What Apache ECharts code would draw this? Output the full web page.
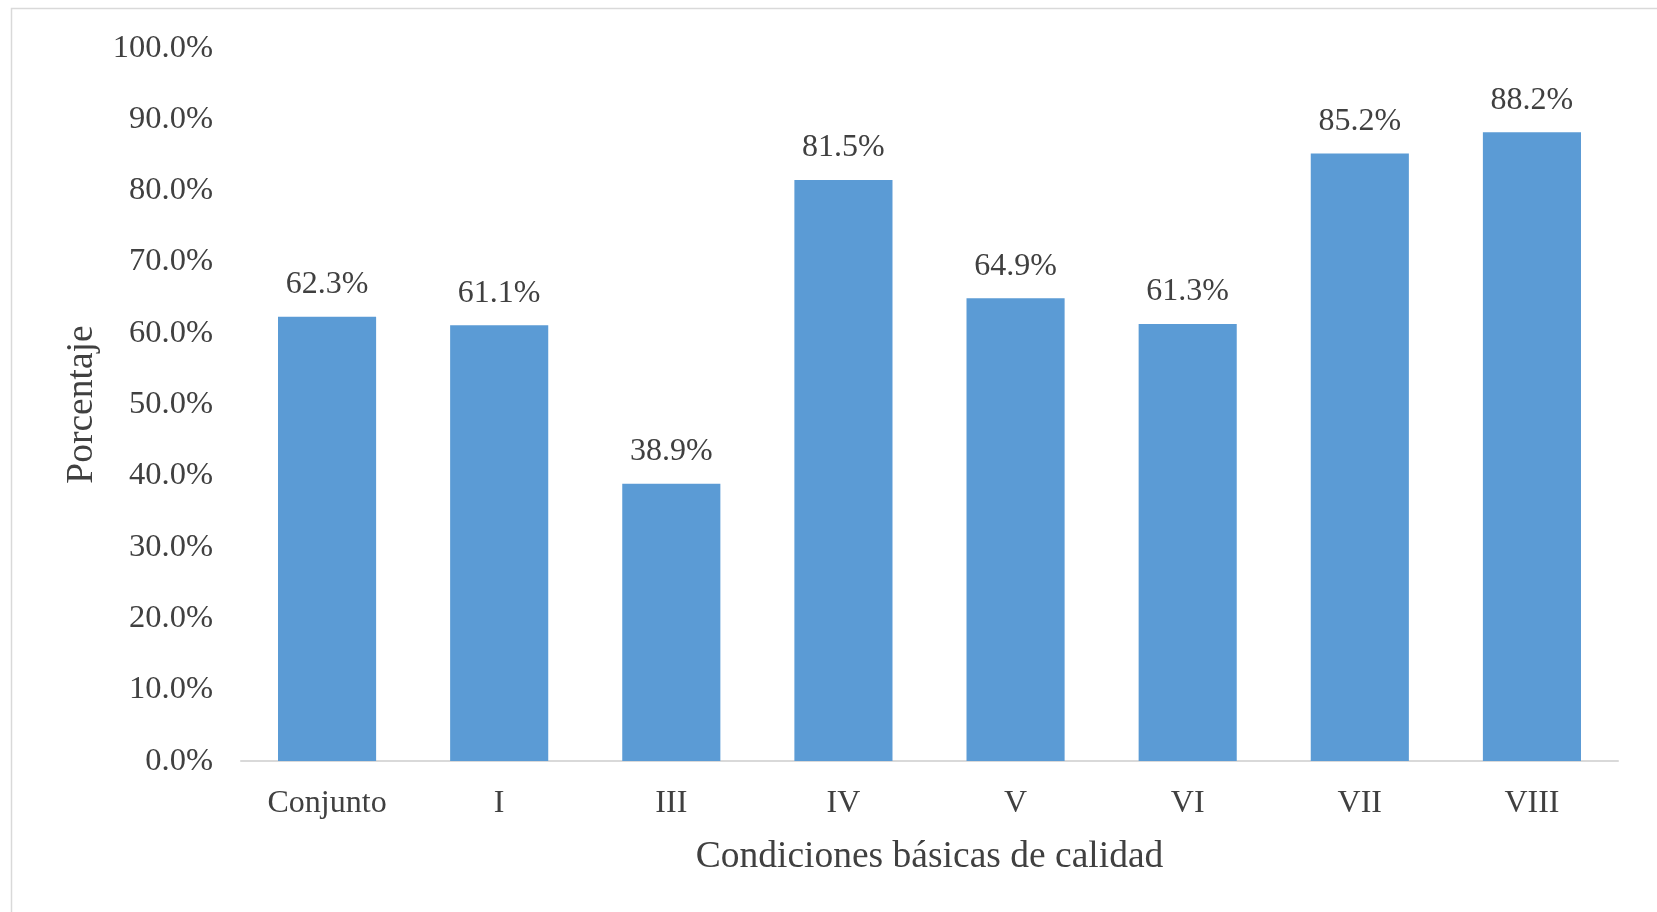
<!DOCTYPE html>
<html>
<head>
<meta charset="utf-8">
<script src="https://cdn.jsdelivr.net/npm/echarts@6/dist/echarts.min.js"></script>
<style>
    html, body { margin: 0; padding: 0; background: #fff; }
    #chart { width: 1657px; height: 912px; }
</style>
</head>
<body>
<div id="chart"></div>
<script>
// categories and values
const categories = ['Conjunto', 'I', 'III', 'IV', 'V', 'VI', 'VII', 'VIII'];
const porcentajes = [62.3, 61.1, 38.9, 81.5, 64.9, 61.3, 85.2, 88.2];

const fontFam = '"Liberation Serif", "Times New Roman", serif';
const textColor = '#404040';

let chart = echarts.init(document.getElementById('chart'));

chart.setOption({
    animation: false,
    backgroundColor: '#fff',
    graphic: [{
        type: 'rect',
        left: 9,
        top: 6,
        shape: {width: 1700, height: 950},
        style: {fill: 'none', stroke: '#d9d9d9', lineWidth: 1.5},
        silent: true
    }],
    grid: {
        left: 241,
        right: 39,
        top: 48,
        bottom: 151
    },
    xAxis: {
        type: 'category',
        data: categories,
        name: 'Condiciones básicas de calidad',
        nameLocation: 'middle',
        nameGap: 77,
        nameTextStyle: {fontFamily: fontFam, fontSize: 37.5, color: textColor},
        axisLine: {lineStyle: {color: '#d9d9d9', width: 2}},
        axisTick: {show: false},
        axisLabel: {fontFamily: fontFam, fontSize: 32, color: textColor, margin: 27}
    },
    yAxis: {
        type: 'value',
        min: 0,
        max: 100,
        interval: 10,
        name: 'Porcentaje',
        nameLocation: 'middle',
        nameGap: 140,
        nameTextStyle: {fontFamily: fontFam, fontSize: 37.5, color: textColor},
        splitLine: {show: false},
        axisLine: {show: false},
        axisTick: {show: false},
        axisLabel: {
            fontFamily: fontFam, fontSize: 32.5, color: textColor, margin: 28,
            formatter: v => v.toFixed(1) + '%'
        }
    },
    series: [{
        type: 'bar',
        data: porcentajes,
        barCategoryGap: '43%',
        itemStyle: {color: '#5B9BD5'},
        label: {
            show: true,
            position: 'top',
            distance: 16,
            fontFamily: fontFam,
            fontSize: 32,
            color: textColor,
            formatter: p => p.value.toFixed(1) + '%'
        }
    }]
});
</script>
</body>
</html>
